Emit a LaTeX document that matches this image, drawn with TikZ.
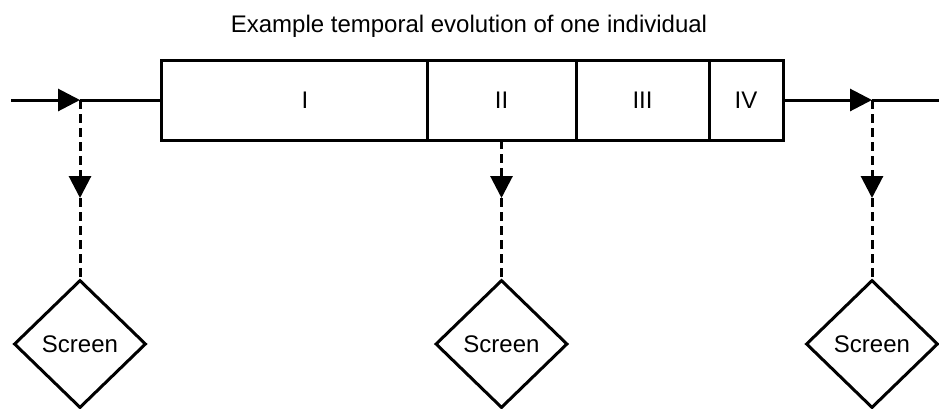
\documentclass[tikz,border=0pt]{standalone}
\usepackage{fontspec}
\setmainfont{Liberation Sans}
\usetikzlibrary{arrows.meta, positioning, shapes.geometric}

\begin{document}
\begin{tikzpicture}[x=0.75pt, y=-0.75pt, line width=2.25pt,
    every node/.style={font=\fontsize{18}{21}\selectfont},
    phase/.style={draw, rectangle, minimum height=60pt, inner sep=0pt, outer sep=0pt},
    screen/.style={draw, diamond, minimum width=99pt, minimum height=96pt, inner sep=0pt},
    flow/.style={-{Triangle[length=16.5pt, width=16.5pt]}},
    check/.style={dash pattern=on 6.75pt off 3.75pt}]
    \useasboundingbox (0,0) rectangle (939,408);

    \node[anchor=base] (title) at (469,32) {Example temporal evolution of one individual};

    \node[phase, minimum width=199.5pt, label={[xshift=8.25pt]center:I}] (p1) at (294,100) {};
    \node[phase, minimum width=111.75pt, right=0pt of p1] (p2) {II};
    \node[phase, minimum width=99.75pt, right=0pt of p2] (p3) {III};
    \node[phase, minimum width=55.5pt, right=0pt of p3] (p4) {IV};

    \coordinate (in) at (11,100);
    \coordinate (j1) at (80,100);
    \coordinate (j2) at (872,100);
    \coordinate (out) at (939,100);
    \coordinate (m1) at (80,198);
    \coordinate (m2) at (501.5,198);
    \coordinate (m3) at (872,198);

    \node[screen] (s1) at (80,344) {Screen};
    \node[screen] (s2) at (501.5,344) {Screen};
    \node[screen] (s3) at (872,344) {Screen};

    \draw[flow] (in) -- (j1);
    \draw (j1) -- (p1);
    \draw[flow] (p4) -- (j2);
    \draw (j2) -- (out);

    \draw[check, flow] (j1) -- (m1);
    \draw[check] (m1) -- (s1);
    \draw[check, flow] (p2) -- (m2);
    \draw[check] (m2) -- (s2);
    \draw[check, flow] (j2) -- (m3);
    \draw[check] (m3) -- (s3);
\end{tikzpicture}
\end{document}
